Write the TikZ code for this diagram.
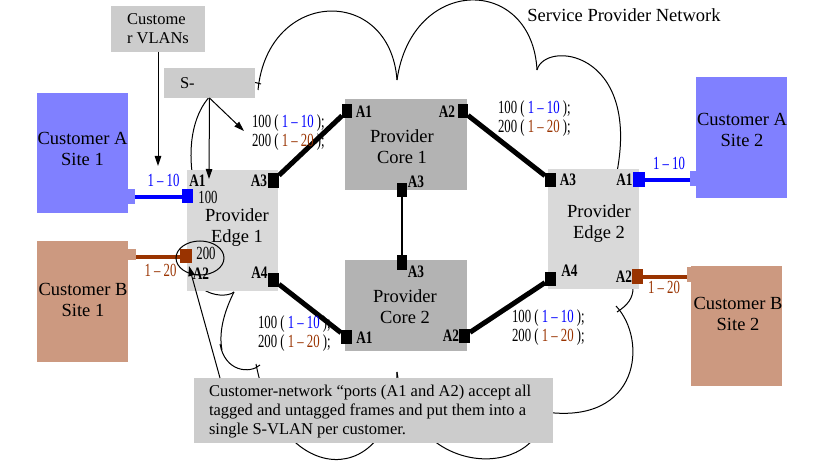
\documentclass[tikz,border=0pt]{standalone}
\usepackage{fontspec}
\setmainfont{Liberation Serif}
\usepackage{graphicx}
\usetikzlibrary{arrows.meta,shapes.geometric}
\definecolor{cblue}{HTML}{0000FF}
\definecolor{cbrown}{HTML}{993300}
\definecolor{custA}{HTML}{8080FF}
\definecolor{custB}{HTML}{CC9980}
\definecolor{boxgray}{HTML}{CCCCCC}
\definecolor{edgegray}{HTML}{D9D9D9}
\definecolor{coregray}{HTML}{B3B3B3}
\newcommand{\cnd}[1]{\scalebox{0.69}[1]{#1}}
\newcommand{\pl}[1]{\scalebox{0.76}[1]{#1}}
\newcommand{\fbig}{\fontsize{18.5}{21}\selectfont}
\newcommand{\fmid}{\fontsize{16.5}{19}\selectfont}
\newcommand{\fdig}{\fontsize{18.5}{19}\selectfont}
\newcommand{\fport}{\fontsize{17.5}{18}\selectfont\bfseries}
\newcommand{\vlab}{\cnd{100 ( \textcolor{cblue}{1 -- 10} );}\\\cnd{200 ( \textcolor{cbrown}{1 -- 20} );}}
\begin{document}
\begin{tikzpicture}[x=1pt,y=-1pt,
  blk/.style={inner sep=0,outer sep=0,draw=none},
  txt/.style={inner sep=0,outer sep=0,align=center,font=\fbig},
  plab/.style={inner sep=0,outer sep=0,font=\fport},
  vl/.style={inner sep=0,outer sep=0,align=left,font=\fdig,anchor=west},
  port/.style={inner sep=0,outer sep=0,fill=black,minimum width=11,minimum height=14},
  cloudline/.style={line width=1pt},
  arr/.style={line width=1pt,-{Triangle[length=10pt,width=6.5pt]}},
  trunk/.style={line width=5pt},
]
\useasboundingbox (0,0) rectangle (825,462);
\fill[white] (0,0) rectangle (825,462);

% cloud
\draw[cloudline] (192,172) .. controls (185,112) and (215,70) .. (261,84);
\draw[cloudline] (258,90) .. controls (268,-12) and (390,-15) .. (397,80);
\draw[cloudline] (397,80) .. controls (412,-25) and (532,-25) .. (537,70);
\draw[cloudline] (537,70) .. controls (545,40) and (640,50) .. (617,172);
\draw[cloudline] (633,288) .. controls (633,298) and (628,305) .. (617,312);
\draw[cloudline] (616,306) .. controls (648,340) and (640,425) .. (545,412);
\draw[cloudline] (545,412) .. controls (538,480) and (412,480) .. (397,372);
\draw[cloudline] (397,372) .. controls (395,490) and (280,490) .. (256,364);
\draw[cloudline] (260,365) .. controls (250,374) and (225,372) .. (220,344);
\draw[cloudline] (222,350) .. controls (218,330) and (226,308) .. (234,292);
\draw[cloudline] (234,292) .. controls (228,297) and (212,296) .. (203,289);
\node[txt] (spn) at (624,15) {Service Provider Network};

% boxes
\node[blk,fill=boxgray,minimum width=94,minimum height=46] (vlan) at (158,29) {};
\node[txt,font=\fmid,align=left,anchor=west] (vlant) at (127,29) {Custome\\r VLANs};
\node[blk,fill=boxgray,minimum width=91,minimum height=30] (sbox) at (209.5,83) {};
\node[txt,font=\fmid,anchor=west] (sboxt) at (180,83) {S-};

\node[blk,fill=custA,minimum width=91,minimum height=120] (cA1) at (82.5,153) {};
\node[blk,fill=custA,minimum width=7,minimum height=15] (tA1) at (131.5,196.5) {};
\node[txt] (cA1t) at (82.5,149) {Customer A\\Site 1};

\node[blk,fill=custB,minimum width=91,minimum height=121] (cB1) at (82.5,301.5) {};
\node[blk,fill=custB,minimum width=8,minimum height=11] (tB1) at (132,254.5) {};
\node[txt] (cB1t) at (83,300) {Customer B\\Site 1};

\node[blk,fill=custA,minimum width=91,minimum height=121] (cA2) at (741.5,137.5) {};
\node[blk,fill=custA,minimum width=6,minimum height=15] (tA2) at (693,178.5) {};
\node[txt] (cA2t) at (742,130) {Customer A\\Site 2};

\node[blk,fill=custB,minimum width=91,minimum height=120] (cB2) at (736.5,326) {};
\node[blk,fill=custB,minimum width=5,minimum height=15] (tB2) at (689,274.5) {};
\node[txt] (cB2t) at (738,314) {Customer B\\Site 2};

\node[blk,fill=edgegray,minimum width=91,minimum height=121] (pe1) at (232.5,230.5) {};
\node[txt] (pe1t) at (237,227.5) {Provider\\Edge 1};
\node[blk,fill=edgegray,minimum width=91,minimum height=120] (pe2) at (593.5,229) {};
\node[txt] (pe2t) at (599,223.5) {Provider\\Edge 2};
\node[blk,fill=coregray,minimum width=122,minimum height=91] (core1) at (406,144.5) {};
\node[txt] (core1t) at (402,146.5) {Provider\\Core 1};
\node[blk,fill=coregray,minimum width=122,minimum height=91] (core2) at (406,305.5) {};
\node[txt] (core2t) at (405,306.5) {Provider\\Core 2};

\node[blk,fill=boxgray,minimum width=359,minimum height=65] (note) at (373.5,410.5) {};
\node[txt,font=\fmid,align=left,anchor=west] (notet) at (209,412) {Customer-network “ports (A1 and A2) accept all\\tagged and untagged frames and put them into a\\single S-VLAN per customer.};

% ports
\node[port,fill=cblue,minimum width=11] (e1A1) at (187.5,196) {};
\node[port,fill=cbrown,minimum width=12] (e1A2) at (186,256) {};
\node[port,minimum height=15] (e1A3) at (273.5,180.5) {};
\node[port] (e1A4) at (273.5,280) {};
\node[port,minimum width=10] (c1A1) at (347,111) {};
\node[port,minimum width=10] (c1A2) at (463,111.5) {};
\node[port,minimum width=10] (c1A3) at (402,190) {};
\node[port,minimum width=10,minimum height=15] (c2A3) at (402,262.5) {};
\node[port] (c2A1) at (346.5,337) {};
\node[port] (c2A2) at (464.5,336) {};
\node[port] (e2A3) at (550.5,180) {};
\node[port] (e2A4) at (550.5,279) {};
\node[port,fill=cblue,minimum width=12,minimum height=15] (e2A1) at (639,179.5) {};
\node[port,fill=cbrown,minimum height=15] (e2A2) at (637.5,276.5) {};

% links
\draw[cblue,line width=4.5pt] (tA1.east |- 0,197) -- (e1A1.west |- 0,197);
\draw[cbrown,line width=4pt] (tB1.east |- 0,257) -- (e1A2.west |- 0,257);
\draw[cblue,line width=4.5pt] (tA2.west |- 0,180) -- (e2A1.east |- 0,180);
\draw[cbrown,line width=4pt] (tB2.west |- 0,277) -- (e2A2.east |- 0,277);
\draw[trunk] (e1A3) -- (c1A1);
\draw[trunk] (e1A4) -- (c2A1);
\draw[trunk] (c1A2) -- (e2A3);
\draw[trunk] (c2A2) -- (e2A4);
\draw[line width=1.3pt] (c1A3) -- (c2A3);
% redraw ports on top
\foreach \p in {e1A3,e1A4,c1A1,c1A2,c1A3,c2A3,c2A1,c2A2,e2A3,e2A4}{\fill (\p.north west) rectangle (\p.south east);}
\fill[cblue] (e1A1.north west) rectangle (e1A1.south east);
\fill[cbrown] (e1A2.north west) rectangle (e1A2.south east);
\fill[cblue] (e2A1.north west) rectangle (e2A1.south east);
\fill[cbrown] (e2A2.north west) rectangle (e2A2.south east);

% port labels
\node[plab] (le1A1) at (197.5,181) {\pl{A1}};
\node[plab] (le1A2) at (201,274) {\pl{A2}};
\node[plab] (le1A3) at (259,181) {\pl{A3}};
\node[plab] (le1A4) at (259.5,273) {\pl{A4}};
\node[plab] (lc1A1) at (364,112) {\pl{A1}};
\node[plab] (lc1A2) at (447,112) {\pl{A2}};
\node[plab] (lc1A3) at (416,182) {\pl{A3}};
\node[plab] (lc2A3) at (416,272) {\pl{A3}};
\node[plab] (lc2A1) at (364.5,338) {\pl{A1}};
\node[plab] (lc2A2) at (451,336) {\pl{A2}};
\node[plab] (le2A3) at (568,180) {\pl{A3}};
\node[plab] (le2A1) at (624.5,180) {\pl{A1}};
\node[plab] (le2A4) at (569.5,271) {\pl{A4}};
\node[plab] (le2A2) at (624,277) {\pl{A2}};

\node[inner sep=0,font=\fdig] (n100) at (208,197) {\cnd{100}};
\node[inner sep=0,font=\fdig] (n200) at (206,253) {\cnd{200}};
\node[inner sep=0,font=\fdig,text=cblue] (r1) at (163.5,180) {\cnd{1 -- 10}};
\node[inner sep=0,font=\fdig,text=cbrown] (r2) at (160.5,270) {\cnd{1 -- 20}};
\node[inner sep=0,font=\fdig,text=cblue] (r3) at (669,163) {\cnd{1 -- 10}};
\node[inner sep=0,font=\fdig,text=cbrown] (r4) at (664,287) {\cnd{1 -- 20}};

\node[vl] (v1) at (252,132.5) {\vlab};
\node[vl] (v2) at (498,119) {\vlab};
\node[vl] (v3) at (258,333.5) {\vlab};
\node[vl] (v4) at (512,327.5) {\vlab};

% ellipse and arrows
\node[draw,ellipse,line width=1pt,minimum width=48,minimum height=34,inner sep=0] (ell) at (200,258) {};
\coordinate (vt) at (158,166);
\coordinate (s1) at (209,179);
\coordinate (s2) at (244,131);
\coordinate (nt) at (220,378);
\coordinate (at) at (189,266);
\draw[arr] (vlan.south) -- (vt);
\draw[arr] (sbox.south) -- (s1);
\draw[arr] (sbox.south) -- (s2);
\draw[arr] (nt) -- (at);
\end{tikzpicture}
\end{document}
